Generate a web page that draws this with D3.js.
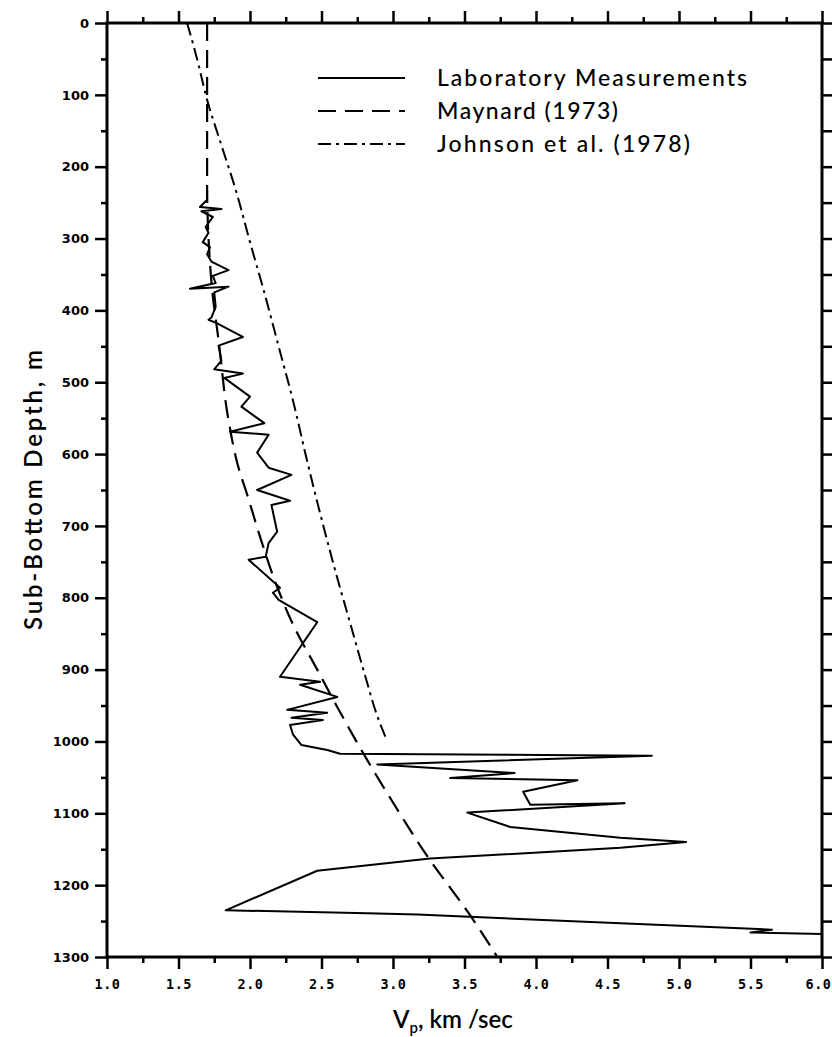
<!DOCTYPE html>
<html>
<head>
<script src="https://cdn.jsdelivr.net/npm/d3@7"></script>
<style>
  body { margin: 0; background: #fff; }
  .frame { fill: none; stroke: #000; stroke-width: 3px; }
  .tick line { stroke: #000; stroke-width: 2.5px; }
  .domain { display: none; }
  .xlab text { font-family: "DejaVu Sans Mono", monospace; font-weight: bold; font-size: 13.5px; letter-spacing: 0.5px; }
  .ylab text { font-family: "DejaVu Sans", sans-serif; font-weight: bold; font-size: 13px; }
  .title { font-family: Lato, "Open Sans", sans-serif; font-weight: 600; font-size: 24px; fill: #000; }
  .legend text { font-family: Lato, "Open Sans", sans-serif; font-weight: 500; font-size: 23px; fill: #000; }
  .lab { fill: none; stroke: #000; stroke-width: 2px; stroke-linejoin: round; }
  .maynard { fill: none; stroke: #000; stroke-width: 2.2px; stroke-dasharray: 18 9; }
  .johnson { fill: none; stroke: #000; stroke-width: 2px; stroke-dasharray: 13 5 3 5; }
</style>
</head>
<body>
<script>
var width = 832,
    height = 1037;

// laboratory measurements (Vp km/s, depth m)
var labVp = [1.70, 1.70, 1.65, 1.80, 1.66, 1.74, 1.69, 1.71, 1.67, 1.72, 1.70, 1.73, 1.85, 1.74, 1.76, 1.58, 1.85, 1.75,
  1.76, 1.73, 1.71, 1.77, 1.95, 1.78, 1.80, 1.75, 1.95, 1.82, 2.00, 1.94, 2.10, 1.86, 2.13, 2.05, 2.13, 2.29, 2.05,
  2.28, 2.15, 2.19, 2.13, 2.11, 1.99, 2.21, 2.16, 2.20, 2.47, 2.21, 2.49, 2.35, 2.61, 2.26, 2.54, 2.29, 2.51, 2.28,
  2.30, 2.36, 2.54, 2.63, 4.81, 2.89, 3.70, 3.85, 3.40, 4.29, 3.91, 3.96, 4.62, 3.52, 3.82, 4.59, 5.05, 4.59, 3.26,
  2.47, 1.83, 2.82, 3.17, 4.59, 5.65, 5.50, 6.00];
var labDepth = [232, 246, 256, 259, 262, 270, 284, 292, 305, 312, 322, 332, 344, 352, 362, 370, 367, 375,
  395, 410, 413, 418, 437, 449, 470, 482, 488, 494, 520, 534, 557, 569, 573, 598, 619, 629, 650,
  665, 671, 708, 724, 743, 747, 786, 793, 803, 834, 910, 917, 921, 938, 956, 960, 967, 970, 977,
  990, 1005, 1012, 1017, 1020, 1032, 1042, 1044, 1051, 1054, 1070, 1088, 1086, 1099, 1119, 1134, 1140, 1148, 1163,
  1180, 1235, 1239, 1241, 1253, 1262, 1266, 1268];

// Maynard (1973)
var maynardVp = [1.70, 1.70, 1.71, 1.74, 1.78, 1.85, 1.93, 1.97, 2.07, 2.19, 2.31, 2.47, 2.61, 2.82, 3.00, 3.21, 3.56, 3.73];
var maynardDepth = [0, 230, 300, 380, 441, 553, 626, 650, 715, 785, 841, 900, 952, 1026, 1085, 1151, 1248, 1300];

// Johnson et al. (1978)
var johnsonVp = [1.56, 1.63, 1.70, 1.80, 1.90, 2.00, 2.10, 2.20, 2.30, 2.40, 2.50, 2.60, 2.70, 2.80, 2.90, 2.95];
var johnsonDepth = [0, 50, 107, 170, 232, 305, 375, 450, 525, 610, 690, 765, 835, 905, 970, 995];

var xMajor = [1.0, 1.5, 2.0, 2.5, 3.0, 3.5, 4.0, 4.5, 5.0, 5.5, 6.0];
var xMinor = [1.25, 1.75, 2.25, 2.75, 3.25, 3.75, 4.25, 4.75, 5.25, 5.75];
var yMajor = [0, 100, 200, 300, 400, 500, 600, 700, 800, 900, 1000, 1100, 1200, 1300];
var yMinor = [50, 150, 250, 350, 450, 550, 650, 750, 850, 950, 1050, 1150, 1250];

var legendLabels = ["Laboratory Measurements", "Maynard (1973)", "Johnson et al. (1978)"];

var x = d3.scaleLinear().domain([1, 6]).range([107, 822]);
var y = d3.scaleLinear().domain([0, 1300]).range([23, 957]);

var svg = d3.select("body").append("svg")
    .attr("width", width)
    .attr("height", height);

// ticks
function addAxis(axis, tr, cls) {
  return svg.append("g").attr("class", cls || "").attr("transform", tr).call(axis);
}
var xl = addAxis(d3.axisBottom(x).tickValues(xMajor).tickSize(12).tickPadding(10).tickFormat(d3.format(".1f")), "translate(0,957)", "xlab");
xl.selectAll("text").filter(function(d) { return d === 6; }).attr("dx", -4);
addAxis(d3.axisBottom(x).tickValues(xMinor).tickSize(6).tickFormat(""), "translate(0,957)");
addAxis(d3.axisTop(x).tickValues(xMajor).tickSize(12).tickFormat(""), "translate(0,23)");
addAxis(d3.axisTop(x).tickValues(xMinor).tickSize(6).tickFormat(""), "translate(0,23)");
addAxis(d3.axisLeft(y).tickValues(yMajor).tickSize(12).tickPadding(6).tickFormat(d3.format("d")), "translate(107,0)", "ylab");
addAxis(d3.axisLeft(y).tickValues(yMinor).tickSize(6).tickFormat(""), "translate(107,0)");
addAxis(d3.axisRight(y).tickValues(yMajor).tickSize(10).tickFormat(""), "translate(822,0)");
addAxis(d3.axisRight(y).tickValues(yMinor).tickSize(10).tickFormat(""), "translate(822,0)");

svg.append("rect").attr("class", "frame")
    .attr("x", x(1)).attr("y", y(0))
    .attr("width", x(6) - x(1)).attr("height", y(1300) - y(0));

// curves
var line = d3.line().x(function(d) { return x(d[0]); }).y(function(d) { return y(d[1]); });
var smooth = d3.line().curve(d3.curveMonotoneY).x(function(d) { return x(d[0]); }).y(function(d) { return y(d[1]); });

svg.append("path").attr("class", "maynard")
    .attr("d", smooth(d3.zip(maynardVp, maynardDepth)));
svg.append("path").attr("class", "johnson")
    .attr("d", smooth(d3.zip(johnsonVp, johnsonDepth)));
svg.append("path").attr("class", "lab")
    .attr("d", line(d3.zip(labVp, labDepth)));

// legend
var legend = svg.append("g").attr("class", "legend");
var styles = ["lab", "maynard", "johnson"];
var legendWidths = [310, 181, 253];
legendLabels.forEach(function(label, i) {
  var base = 86 + i * 33;
  legend.append("line").attr("class", styles[i])
      .attr("x1", 318).attr("x2", 405)
      .attr("y1", base - 8).attr("y2", base - 8);
  legend.append("text")
      .attr("x", 437).attr("y", base)
      .attr("textLength", legendWidths[i]).attr("lengthAdjust", "spacing")
      .text(label);
});

// axis titles
var xt = svg.append("text").attr("class", "title")
    .attr("x", 393).attr("y", 1028);
xt.append("tspan").text("V");
xt.append("tspan").attr("font-size", "15px").attr("dy", 5).text("p");
xt.append("tspan").attr("dy", -5).text(", km /sec");

svg.append("text").attr("class", "title")
    .attr("transform", "translate(42,490) rotate(-90)")
    .attr("text-anchor", "middle")
    .attr("textLength", 280).attr("lengthAdjust", "spacing")
    .text("Sub-Bottom Depth, m");
</script>
</body>
</html>
